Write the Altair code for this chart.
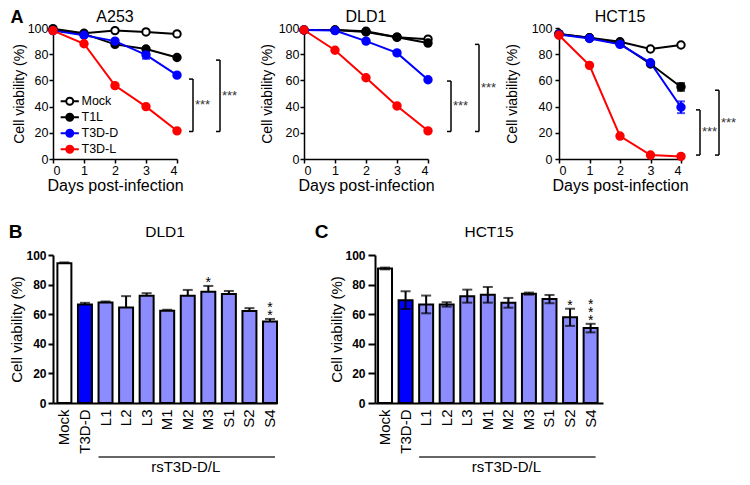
import altair as alt
import pandas as pd

FONT = "Liberation Sans"

# ---------------- data: panel A (line charts) ----------------
days = [0, 1, 2, 3, 4]
series_names = ["Mock", "T1L", "T3D-D", "T3D-L"]
line_colors = ["#000000", "#000000", "#0000FF", "#FF0000"]
fill_colors = ["#FFFFFF", "#000000", "#0000FF", "#FF0000"]

a253_mock = [99.5, 96, 98, 97, 95.5]
a253_t1l = [98.5, 95.5, 87.5, 84, 77.5]
a253_t3dd = [98, 94.5, 90, 79.5, 64]
a253_t3dl = [98, 88, 56, 40, 21.5]
a253_err_series = ["T3D-D"]
a253_err_day = [3]
a253_err_size = [3.0]

dld1_mock = [98.5, 98.5, 97.5, 93, 91.5]
dld1_t1l = [98.5, 98.5, 97, 93, 88.5]
dld1_t3dd = [98.5, 98, 90, 81, 60.5]
dld1_t3dl = [98.5, 83, 62, 40.5, 21.5]
dld1_err_series = []
dld1_err_day = []
dld1_err_size = []

hct15_mock = [95.5, 92.5, 89.5, 84, 87]
hct15_t1l = [95.5, 92.5, 88, 72.5, 55]
hct15_t3dd = [95, 92, 87.5, 73.5, 39.5]
hct15_t3dl = [94.5, 71.5, 17.5, 3, 2]
hct15_err_series = ["Mock", "T1L", "T3D-D"]
hct15_err_day = [0, 4, 4]
hct15_err_size = [1.5, 3.0, 4.5]

bracket_text = ["***", "***"]
a253_bracket_top = [61, 75.5]
a253_bracket_bottom = [21, 21]
dld1_bracket_top = [59.5, 87.5]
dld1_bracket_bottom = [21, 21]
hct15_bracket_top = [37.5, 52.5]
hct15_bracket_bottom = [3, 3]

# ---------------- data: panels B and C (bar charts) ----------------
bar_categories = ["Mock", "T3D-D", "L1", "L2", "L3", "M1", "M2", "M3", "S1", "S2", "S4"]
bar_fills = ["#FFFFFF", "#0000FF"] + ["#8C8CFF"] * 9

dld1_bar_values = [94.5, 66.6, 67.9, 64.6, 72.4, 62.4, 72.4, 75.1, 73.7, 62.1, 55.0]
dld1_bar_errors = [0.5, 1.1, 0.7, 7.6, 1.8, 0.6, 4.0, 4.0, 2.0, 2.0, 1.8]
dld1_star_cats = ["M3", "S4"]
dld1_star_count = [1, 2]

hct15_bar_values = [90.9, 69.5, 66.6, 66.6, 72.2, 73.1, 67.7, 73.9, 70.2, 57.9, 50.6]
hct15_bar_errors = [0.6, 6.0, 6.0, 1.5, 4.4, 5.3, 3.3, 0.7, 2.8, 5.8, 2.9]
hct15_star_cats = ["S2", "S4"]
hct15_star_count = [1, 3]

group_label = "rsT3D-D/L"
group_start, group_end, group_mid = "L1", "S4", "M2"

SYM = "M-2.6,0L-1,0M1,0L2.6,0M-1,0A1,1,0,1,0,1,0A1,1,0,1,0,-1,0Z"
LH = 131
BH = 148


def one_row():
    return alt.Chart(pd.DataFrame({"a": [0]}))


def label_layer(text, x, y, size, bold=False):
    return one_row().mark_text(text=text, fontSize=size, fontWeight="bold" if bold else "normal",
                               align="center", baseline="middle", color="black").encode(
        x=alt.value(x), y=alt.value(y))


def line_panel(vals, err_s, err_d, err_v, br_top, br_bot, title, width,
               ytp, ylpad, bx, letter=None, legend=False):
    rows = []
    for k, (s, v) in enumerate(zip(series_names, vals)):
        for d, val in zip(days, v):
            rows.append(dict(series=s, k=k, day=d, value=val, lc=line_colors[k]))
    df = pd.DataFrame(rows)

    xs = alt.Scale(domain=[0, 4], nice=False, zero=False)
    ys = alt.Scale(domain=[0, 100], nice=False)
    xax = alt.Axis(values=days, format="d", title="Days post-infection", titlePadding=1,
                   titleFontSize=16, labelFontSize=12.5, tickSize=4, labelPadding=1, grid=False)
    yax = alt.Axis(values=[0, 20, 40, 60, 80, 100], title="Cell viability (%)", titleFontSize=14,
                   titlePadding=ytp, labelFontSize=12.5, tickSize=4, labelPadding=ylpad, grid=False)

    def X(f):
        return alt.X(f, type="quantitative", scale=xs, axis=xax)

    def Y(f):
        return alt.Y(f, type="quantitative", scale=ys, axis=yax)

    layers = []
    layers.append(alt.Chart(df).mark_line(strokeWidth=2).encode(
        x=X("day"), y=Y("value"), color=alt.Color("lc:N", scale=None), detail="series:N"))

    if err_s:
        erows, crows = [], []
        for s, d, e in zip(err_s, err_d, err_v):
            k = series_names.index(s)
            v = vals[k][days.index(d)]
            erows.append(dict(day=d, lo=v - e, hi=v + e, lc=line_colors[k]))
            crows.append(dict(day=d, yv=v - e, lc=line_colors[k]))
            crows.append(dict(day=d, yv=v + e, lc=line_colors[k]))
        layers.append(alt.Chart(pd.DataFrame(erows)).mark_rule(strokeWidth=2).encode(
            x=X("day"), y=Y("lo"), y2=alt.Y2("hi"), color=alt.Color("lc:N", scale=None)))
        layers.append(alt.Chart(pd.DataFrame(crows)).mark_tick(
            orient="horizontal", size=8, thickness=2).encode(
            x=X("day"), y=Y("yv"), color=alt.Color("lc:N", scale=None)))

    if legend:
        leg = alt.Legend(title=None, orient="none", legendX=10.5, legendY=67, symbolType=SYM,
                         symbolSize=49, symbolStrokeWidth=2, labelFontSize=12.5, labelOffset=5.5,
                         rowPadding=0, padding=0, labelFont=FONT, labelColor="black")
    else:
        leg = None
    layers.append(alt.Chart(df).mark_point(filled=False, size=55, strokeWidth=2, opacity=1).encode(
        x=X("day"), y=Y("value"),
        stroke=alt.Stroke("series:N", scale=alt.Scale(domain=series_names, range=line_colors), legend=leg),
        fill=alt.Fill("series:N", scale=alt.Scale(domain=series_names, range=fill_colors), legend=leg),
        order=alt.Order("k:Q")))

    for i in range(len(br_top)):
        t, b = br_top[i], br_bot[i]
        bdf = pd.DataFrame({"top": [t], "bottom": [b], "mid": [(t + b) / 2], "t": [bracket_text[i]]})
        tdf = pd.DataFrame({"yv": [t, b]})
        layers.append(alt.Chart(bdf).mark_rule(strokeWidth=1.5, color="black").encode(
            x=alt.value(bx[i]), y=Y("top"), y2=alt.Y2("bottom")))
        layers.append(alt.Chart(tdf).mark_rule(strokeWidth=1.5, color="black").encode(
            x=alt.value(bx[i] - 4), x2=alt.value(bx[i]), y=Y("yv")))
        layers.append(alt.Chart(bdf).mark_text(align="left", baseline="middle", fontSize=13,
                                               color="#333333").encode(
            x=alt.value(bx[i] + 2), y=Y("mid"), text="t:N"))

    layers.append(label_layer(title, width / 2, -11.5, 16))
    if letter:
        layers.append(label_layer(letter, -36, -10, 18, bold=True))

    return alt.layer(*layers).properties(width=width, height=LH)


def bar_panel(vals, errs, star_cats, star_count, title, letter, letter_x, width, po, align,
              both, tick, ylpad, ytp):
    df = pd.DataFrame({"cat": bar_categories, "v": vals, "e": errs, "fc": bar_fills})
    df["hi"] = df["v"] + df["e"]
    df["lo"] = df["v"] - df["e"] if both else df["v"]

    xs = alt.Scale(domain=bar_categories, paddingInner=0.32, paddingOuter=po, align=align)
    xax = alt.Axis(title=None, labelAngle=270, ticks=False, labelFontSize=15, labelPadding=6,
                   grid=False, domainWidth=2)
    ys = alt.Scale(domain=[0, 100], nice=False)
    yax = alt.Axis(values=[0, 20, 40, 60, 80, 100], title="Cell viability (%)", titleFontSize=15,
                   titlePadding=ytp, labelFontSize=12, labelFontWeight="bold", tickSize=tick,
                   labelPadding=ylpad, grid=False, domainWidth=2, tickWidth=2)

    def X(f):
        return alt.X(f, type="nominal", scale=xs, axis=xax)

    def Y(f):
        return alt.Y(f, type="quantitative", scale=ys, axis=yax)

    base = alt.Chart(df)
    layers = [
        base.mark_bar(stroke="black", strokeWidth=2).encode(
            x=X("cat"), y=Y("v"), fill=alt.Fill("fc:N", scale=None)),
        base.mark_rule(strokeWidth=2, color="black").encode(x=X("cat"), y=Y("lo"), y2=alt.Y2("hi")),
        base.mark_tick(orient="horizontal", size=10, thickness=2, color="black").encode(
            x=X("cat"), y=Y("hi")),
    ]
    if both:
        layers.append(base.mark_tick(orient="horizontal", size=10, thickness=2, color="black").encode(
            x=X("cat"), y=Y("lo")))

    # significance stars, stacked vertically
    for level in range(max(star_count)):
        cats_l = [c for c, n in zip(star_cats, star_count) if n > level]
        sdf = pd.DataFrame({"cat": cats_l, "t": ["*"] * len(cats_l)})
        sdf["y"] = [float(df.loc[df["cat"] == c, "hi"].iloc[0]) for c in cats_l]
        layers.append(alt.Chart(sdf).mark_text(baseline="bottom", fontSize=14,
                                               dy=4 - 8 * level, color="black").encode(
            x=X("cat"), y=Y("y"), text="t:N"))

    gdf = pd.DataFrame({"s": [group_start], "e": [group_end], "m": [group_mid], "t": [group_label]})
    layers.append(alt.Chart(gdf).mark_rule(strokeWidth=1.5, color="#333333", xOffset=-7, x2Offset=5).encode(
        x=X("s"), x2=alt.X2("e"), y=alt.value(BH + 54)))
    layers.append(alt.Chart(gdf).mark_text(fontSize=15, baseline="middle", dx=-2, color="black").encode(
        x=X("m"), y=alt.value(BH + 64), text="t:N"))

    layers.append(label_layer(title, width / 2, -23, 15.5))
    layers.append(label_layer(letter, letter_x, -23, 19, bold=True))

    return alt.layer(*layers).properties(width=width, height=BH)


pA1 = line_panel([a253_mock, a253_t1l, a253_t3dd, a253_t3dl], a253_err_series, a253_err_day,
                 a253_err_size, a253_bracket_top, a253_bracket_bottom, "A253", 124,
                 ytp=1, ylpad=1, bx=[140, 167], letter="A", legend=True)
pA2 = line_panel([dld1_mock, dld1_t1l, dld1_t3dd, dld1_t3dl], dld1_err_series, dld1_err_day,
                 dld1_err_size, dld1_bracket_top, dld1_bracket_bottom, "DLD1", 124,
                 ytp=4, ylpad=1, bx=[147, 175])
pA3 = line_panel([hct15_mock, hct15_t1l, hct15_t3dd, hct15_t3dl], hct15_err_series, hct15_err_day,
                 hct15_err_size, hct15_bracket_top, hct15_bracket_bottom, "HCT15", 122,
                 ytp=12, ylpad=3, bx=[141, 160])

pB = bar_panel(dld1_bar_values, dld1_bar_errors, dld1_star_cats, dld1_star_count, "DLD1", "B", -37.5,
               224, 0.107, 1.0, False, tick=5, ylpad=2, ytp=1)
pC = bar_panel(hct15_bar_values, hct15_bar_errors, hct15_star_cats, hct15_star_count, "HCT15", "C", -53.5,
               228, 0.205, 0.36, True, tick=7, ylpad=3, ytp=0)

ind = dict(stroke="independent", fill="independent")
row1 = alt.hconcat(
    alt.hconcat(pA1, pA2, spacing=22).resolve_scale(**ind).resolve_legend(**ind),
    pA3, spacing=8).resolve_scale(**ind).resolve_legend(**ind)
row2 = alt.hconcat(pB, pC, spacing=36)

chart = alt.vconcat(row1, row2, spacing=29).resolve_scale(**ind).resolve_legend(**ind).properties(
    padding=0
).configure_view(
    stroke=None
).configure_axis(
    domainColor="black", tickColor="black", labelColor="black", titleColor="black",
    labelFont=FONT, titleFont=FONT, titleFontWeight="normal", domainWidth=1.5, tickWidth=1.5
).configure_text(font=FONT).configure_legend(labelFont=FONT)

chart.save("out.html", embed_options={"renderer": "svg", "actions": False})
